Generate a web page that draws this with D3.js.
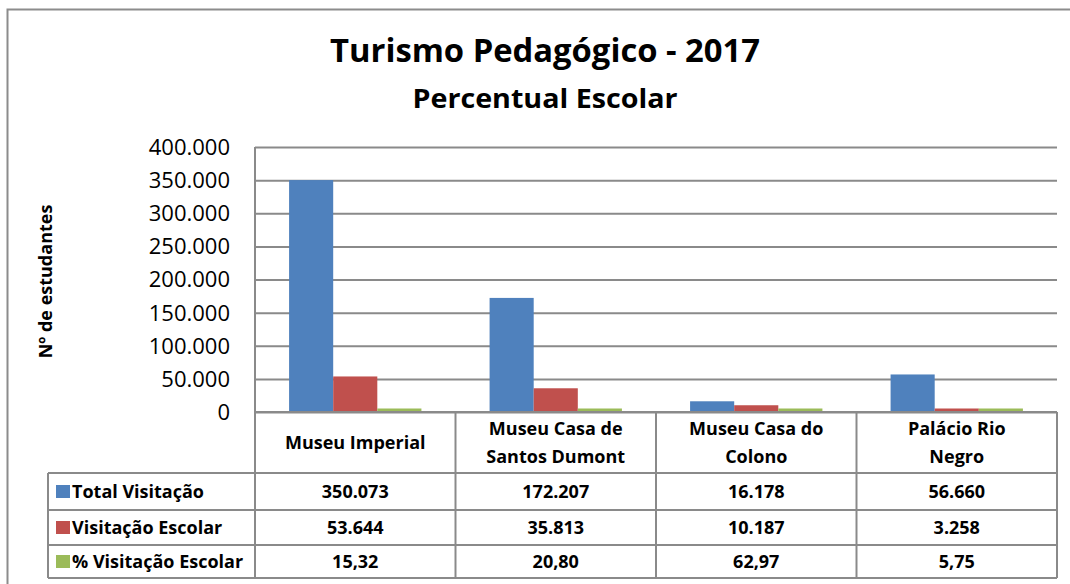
<!DOCTYPE html>
<html>
<head>
<meta charset="utf-8">
<script src="https://cdn.jsdelivr.net/npm/d3@7"></script>
<style>
  body { margin: 0; background: #fff; }
  svg text { font-family: "Open Sans", "Liberation Sans", sans-serif; fill: #000; }
</style>
</head>
<body>
<div id="vis"></div>
<script>
// Turismo Pedagógico 2017 - bar chart with data table underneath

const categories = ["Museu Imperial", "Museu Casa de Santos Dumont", "Museu Casa do Colono", "Palácio Rio Negro"];
const categoryLines = [["Museu Imperial"], ["Museu Casa de", "Santos Dumont"], ["Museu Casa do", "Colono"], ["Palácio Rio", "Negro"]];
const seriesNames = ["Total Visitação", "Visitação Escolar", "% Visitação Escolar"];
const totalVisitacao = [350073, 172207, 16178, 56660];
const visitacaoEscolar = [53644, 35813, 10187, 3258];
const pctEscolar = [15.32, 20.80, 62.97, 5.75];
const yTicks = [0, 50000, 100000, 150000, 200000, 250000, 300000, 350000, 400000];
const colors = ["#4f81bd", "#c0504d", "#9bbb59"];

const width = 1070;
const height = 584;
const margins = {top: 147, left: 255, right: 13, bottom: 172};
const rowH = [61, 37, 35, 33];   // header row + 3 data rows
const tableLeft = 48;
const gridColor = "#8a8a8a";
const minBar = 3.5; // tiny values still show as a sliver, as in excel

const ptBR = d3.formatLocale({decimal: ",", thousands: ".", grouping: [3], currency: ["R$", ""]});
const fmtInt = ptBR.format(",d");
const fmtPct = ptBR.format(",.2f");

const series = [totalVisitacao, visitacaoEscolar, pctEscolar];
const rows = seriesNames.map((name, s) => ({name: name, color: colors[s], values: series[s], fmt: s === 2 ? fmtPct : fmtInt}));

const plotRight = width - margins.right;
const plotBottom = height - margins.bottom;

const yScale = d3.scaleLinear().domain([0, 400000]).range([plotBottom, margins.top]);
const colScale = d3.scaleBand().domain(categories).range([margins.left, plotRight]);
const xScale = d3.scaleBand().domain(categories).range([margins.left, plotRight]).paddingInner(0.34).paddingOuter(0.17);
const xInner = d3.scaleBand().domain(seriesNames).range([0, xScale.bandwidth()]);

const svg = d3.select("#vis").append("svg").attr("width", width).attr("height", height);

// outer chart frame (runs off the right and bottom edge like the original)
svg.append("rect")
    .attr("x", 7.5).attr("y", 9.5)
    .attr("width", 1100).attr("height", 620)
    .attr("fill", "none").attr("stroke", "#8c8c8c").attr("stroke-width", 2);

svg.append("text")
    .attr("x", 545).attr("y", 62)
    .attr("text-anchor", "middle")
    .style("font-size", "33px").style("font-weight", "bold")
    .attr("textLength", 430).attr("lengthAdjust", "spacingAndGlyphs")
    .text("Turismo Pedagógico - 2017");
svg.append("text")
    .attr("x", 545).attr("y", 108)
    .attr("text-anchor", "middle")
    .style("font-size", "27px").style("font-weight", "bold")
    .attr("textLength", 265).attr("lengthAdjust", "spacingAndGlyphs")
    .text("Percentual Escolar");

// gridlines
const yAxis = d3.axisLeft(yScale).tickValues(yTicks).tickFormat(ptBR.format(",.0f"))
    .tickSize(-(plotRight - margins.left)).tickPadding(25);
const yAxisG = svg.append("g").attr("class", "y axis")
    .attr("transform", `translate(${margins.left}, 0)`)
    .call(yAxis);
yAxisG.select(".domain").remove();
yAxisG.selectAll(".tick line").attr("stroke", gridColor).attr("stroke-width", 2);
yAxisG.selectAll(".tick text")
    .style("font-size", "22px")
    .style("font-family", "'Open Sans', sans-serif")
    .attr("dy", "0.34em");

svg.append("text")
    .attr("transform", `translate(52, ${(margins.top + plotBottom) / 2 + 2}) rotate(-90)`)
    .attr("text-anchor", "middle")
    .style("font-size", "18px").style("font-weight", "bold")
    .text("Nº de estudantes");

// bars
const groups = svg.selectAll("g.cat").data(categories).enter().append("g")
    .attr("class", "cat")
    .attr("transform", d => `translate(${xScale(d)}, 0)`);
groups.selectAll("rect").data((d, i) => rows.map(r => ({name: r.name, color: r.color, value: r.values[i]})))
    .enter().append("rect")
    .attr("x", d => xInner(d.name))
    .attr("y", d => Math.min(yScale(d.value), plotBottom - minBar))
    .attr("width", xInner.bandwidth())
    .attr("height", d => plotBottom - Math.min(yScale(d.value), plotBottom - minBar))
    .attr("fill", d => d.color);

// table
const tableTop = plotBottom;
const rowY = [tableTop];
rowH.forEach(h => rowY.push(rowY[rowY.length - 1] + h));
const lines = svg.append("g").attr("stroke", gridColor).attr("stroke-width", 2);

// vertical: left axis + column dividers
lines.append("line").attr("x1", margins.left).attr("x2", margins.left).attr("y1", margins.top).attr("y2", rowY[4]);
categories.forEach(c => {
    const xr = colScale(c) + colScale.bandwidth();
    lines.append("line").attr("x1", xr).attr("x2", xr).attr("y1", tableTop).attr("y2", rowY[4]);
});
lines.append("line").attr("x1", tableLeft).attr("x2", tableLeft).attr("y1", rowY[1]).attr("y2", rowY[4]);
// horizontal
lines.append("line").attr("x1", margins.left).attr("x2", plotRight).attr("y1", tableTop).attr("y2", tableTop);
rowY.slice(1).forEach(y => {
    lines.append("line").attr("x1", tableLeft).attr("x2", plotRight).attr("y1", y).attr("y2", y);
});

// header texts
categories.forEach((c, i) => {
    const cx = colScale(c) + colScale.bandwidth() / 2;
    const ls = categoryLines[i];
    const mid = tableTop + rowH[0] / 2;
    ls.forEach((t, k) => {
        svg.append("text")
            .attr("x", cx)
            .attr("y", mid + (k - (ls.length - 1) / 2) * 28)
            .attr("dy", "0.36em")
            .attr("text-anchor", "middle")
            .style("font-size", "18px").style("font-weight", "bold")
            .text(t);
    });
});

// data rows
rows.forEach((r, s) => {
    const cy = (rowY[s + 1] + rowY[s + 2]) / 2;
    svg.append("rect")
        .attr("x", 56).attr("y", cy - 6.5)
        .attr("width", 14).attr("height", 13)
        .attr("fill", r.color);
    svg.append("text")
        .attr("x", 72).attr("y", cy).attr("dy", "0.36em")
        .style("font-size", "18px").style("font-weight", "bold")
        .text(r.name);
    categories.forEach((c, i) => {
        svg.append("text")
            .attr("x", colScale(c) + colScale.bandwidth() / 2)
            .attr("y", cy).attr("dy", "0.36em")
            .attr("text-anchor", "middle")
            .style("font-size", "18px").style("font-weight", "bold")
            .text(r.fmt(r.values[i]));
    });
});
</script>
</body>
</html>
